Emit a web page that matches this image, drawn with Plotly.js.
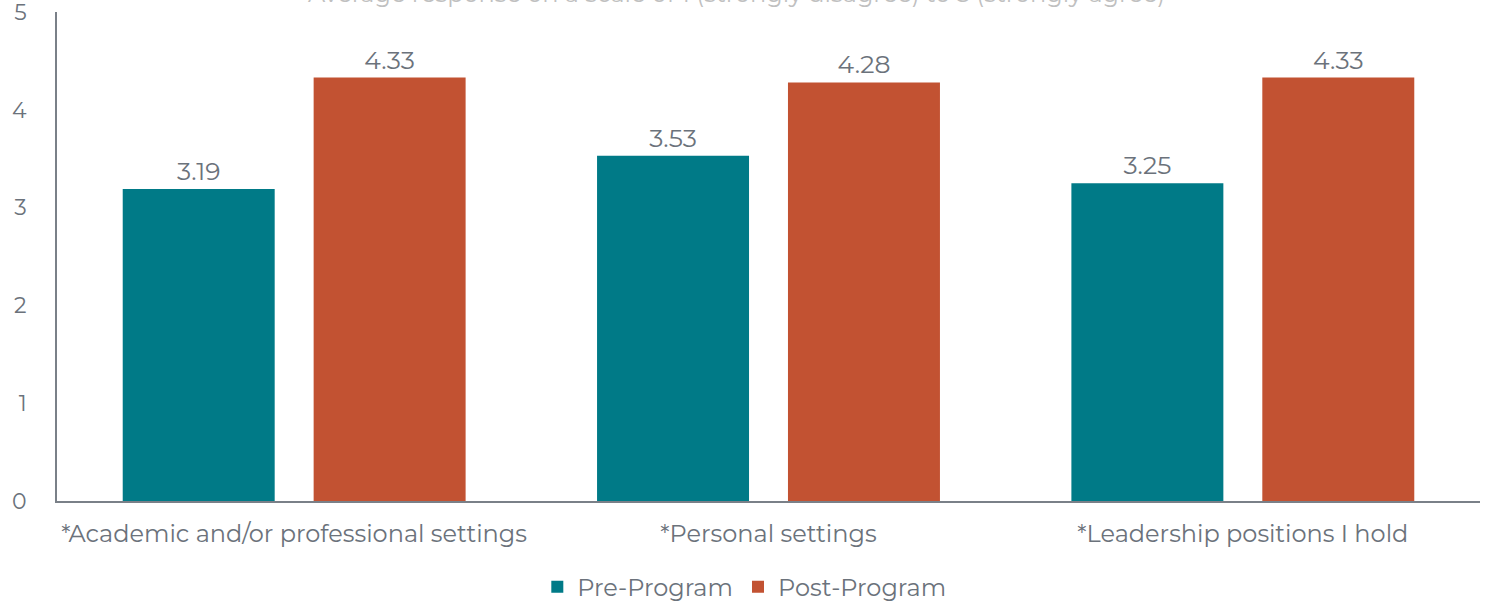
<!DOCTYPE html>
<html><head><meta charset="utf-8">
<script src="https://cdn.plot.ly/plotly-3.0.1.min.js"></script>
<style>html,body{margin:0;padding:0;background:#fff}#chart{width:1488px;height:604px}</style>
</head><body><div id="chart"></div>
<script>
const categories = ["*Academic and/or professional settings", "*Personal settings", "*Leadership positions I hold"];
const seriesNames = ["Pre-Program", "Post-Program"];
const preValues = [3.19, 3.53, 3.25];
const postValues = [4.33, 4.28, 4.33];
const yTicks = [0, 1, 2, 3, 4, 5];
const titleText = "Average response on a scale of 1 (strongly disagree) to 5 (strongly agree)";

const fontFam = "Montserrat, 'Open Sans', 'Noto Sans', sans-serif";
const textCol = "#6b727b";
const colors = ["#007a87", "#c25232"];

const traces = [preValues, postValues].map((vals, i) => ({
  type: "bar",
  name: seriesNames[i],
  x: categories,
  y: vals,
  marker: {color: colors[i]},
  text: vals.map(v => v.toFixed(2)),
  textposition: "outside",
  textfont: {family: fontFam, size: 25, color: textCol},
  cliponaxis: false,
  hoverinfo: "skip"
}));

const layout = {
  width: 1488, height: 604,
  margin: {l: 57, r: 8, t: 12, b: 103, autoexpand: false},
  paper_bgcolor: "#fff", plot_bgcolor: "#fff",
  barmode: "group",
  bargap: 0.195,
  bargroupgap: 0.204,
  title: {text: titleText, x: 0.495, xanchor: "center", y: 1.0, yanchor: "top", yref: "container",
          pad: {t: -15},
          font: {family: fontFam, size: 24, color: "#c0c0c0"}},
  font: {family: fontFam, color: textCol},
  xaxis: {showline: true, linecolor: "#7a8088", linewidth: 2, ticks: "", showgrid: false,
          ticklabelstandoff: 10,
          tickfont: {family: fontFam, size: 24, color: textCol}, automargin: false},
  yaxis: {range: [0, 5], tickvals: yTicks, showline: true, linecolor: "#7a8088", linewidth: 2,
          showgrid: false, zeroline: false, ticks: "", ticklabelstandoff: 24,
          ticklabeloverflow: "allow",
          tickfont: {family: fontFam, size: 22, color: textCol}, automargin: false},
  legend: {orientation: "h", x: 0.483, xanchor: "center", y: -0.13, yanchor: "top",
           font: {family: fontFam, size: 24, color: textCol}, itemwidth: 30, traceorder: "normal"},
  showlegend: true
};
Plotly.newPlot("chart", traces, layout, {displayModeBar: false, staticPlot: true});
</script></body></html>
